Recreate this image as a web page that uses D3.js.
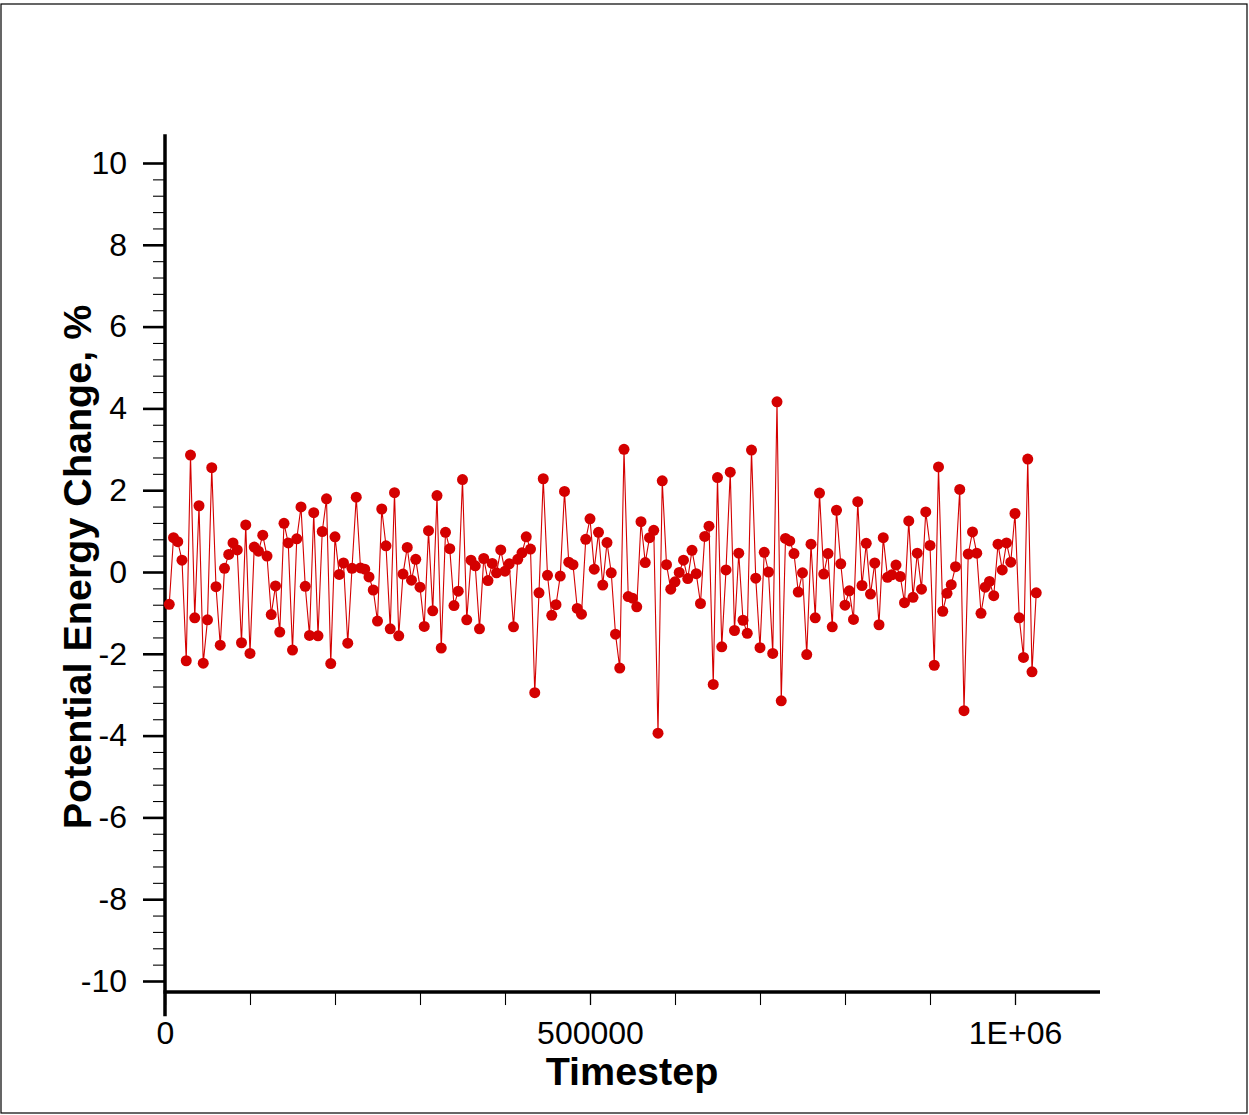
<!DOCTYPE html>
<html>
<head>
<meta charset="utf-8">
<script src="https://cdn.jsdelivr.net/npm/d3@7"></script>
<style>
  html, body { margin: 0; padding: 0; background: #fff; }
  svg { display: block; }
  text { font-family: "Liberation Sans", Arial, sans-serif; fill: #000; }
</style>
</head>
<body>
<svg id="chart" width="1249" height="1115"></svg>
<script>
// ---- data ----
const stepStart = 5000, stepSize = 5000;
const energyChange = [
  -0.79, 0.84, 0.74, 0.29, -2.17, 2.86, -1.12, 1.62, -2.23, -1.17,
  2.55, -0.36, -1.79, 0.09, 0.43, 0.71, 0.54, -1.73, 1.15, -1.99,
  0.61, 0.51, 0.90, 0.39, -1.04, -0.34, -1.47, 1.19, 0.71, -1.91,
  0.81, 1.59, -0.35, -1.55, 1.45, -1.56, 0.99, 1.79, -2.24, 0.86,
  -0.06, 0.22, -1.74, 0.09, 1.83, 0.10, 0.07, -0.12, -0.44, -1.20,
  1.54, 0.64, -1.39, 1.94, -1.56, -0.05, 0.60, -0.20, 0.31, -0.37,
  -1.33, 1.01, -0.95, 1.87, -1.86, 0.97, 0.57, -0.82, -0.47, 2.26,
  -1.17, 0.29, 0.15, -1.39, 0.33, -0.21, 0.21, -0.02, 0.54, 0.02,
  0.20, -1.34, 0.31, 0.47, 0.86, 0.56, -2.95, -0.51, 2.28, -0.08,
  -1.06, -0.80, -0.10, 1.97, 0.24, 0.18, -0.89, -1.03, 0.80, 1.30,
  0.07, 0.97, -0.32, 0.72, -0.02, -1.52, -2.35, 3.00, -0.60, -0.64,
  -0.85, 1.23, 0.23, 0.84, 1.02, -3.94, 2.23, 0.18, -0.42, -0.24,
  -0.01, 0.29, -0.16, 0.53, -0.04, -0.77, 0.87, 1.12, -2.75, 2.31,
  -1.83, 0.05, 2.44, -1.43, 0.46, -1.18, -1.50, 2.98, -0.15, -1.85,
  0.48, 0.00, -1.99, 4.16, -3.15, 0.82, 0.76, 0.45, -0.49, -0.02,
  -2.02, 0.68, -1.12, 1.93, -0.05, 0.45, -1.34, 1.51, 0.20, -0.81,
  -0.46, -1.16, 1.72, -0.33, 0.70, -0.54, 0.22, -1.29, 0.84, -0.13,
  -0.07, 0.17, -0.11, -0.75, 1.25, -0.62, 0.46, -0.42, 1.47, 0.65,
  -2.28, 2.57, -0.96, -0.52, -0.31, 0.13, 2.02, -3.39, 0.44, 0.98,
  0.46, -1.01, -0.37, -0.23, -0.58, 0.68, 0.05, 0.71, 0.24, 1.43,
  -1.12, -2.09, 2.76, -2.44, -0.51
];
const timesteps = energyChange.map((_, i) => stepStart + i * stepSize);
const xMajorTicks = [0, 500000, 1000000];
const xMajorLabels = ["0", "500000", "1E+06"];
const xMinorTicks = [100000, 200000, 300000, 400000, 600000, 700000, 800000, 900000];
const yMajorTicks = [-10, -8, -6, -4, -2, 0, 2, 4, 6, 8, 10];
const yMajorLabels = ["-10", "-8", "-6", "-4", "-2", "0", "2", "4", "6", "8", "10"];
const yMinorTicks = d3.range(-10, 10.01, 0.4).map(v => +v.toFixed(1)).filter(v => Math.abs(v % 2) > 1e-6);
const xTitle = "Timestep";
const yTitle = "Potential Energy Change, %";

// ---- layout ----
const svg = d3.select("#chart");
const x = d3.scaleLinear().domain([0, 1100000]).range([165, 1100]);
const y = d3.scaleLinear().domain([-10, 10]).range([981, 163]);
const red = "#d40000";

// frame
svg.append("rect").attr("x", 1).attr("y", 4).attr("width", 1246).attr("height", 1109)
  .attr("fill", "none").attr("stroke", "#000").attr("stroke-width", 1.2);

// y axis
const yAxisMajor = d3.axisLeft(y).tickValues(yMajorTicks).tickSize(22).tickPadding(16)
  .tickFormat((d, i) => yMajorLabels[i]);
const gy = svg.append("g").attr("transform", `translate(${x(0)},0)`).call(yAxisMajor);
gy.select(".domain").remove();
gy.selectAll(".tick line").attr("stroke", "#000").attr("stroke-width", 2.6);
gy.selectAll(".tick text").attr("font-size", 32).attr("font-family", "Liberation Sans, Arial, sans-serif").attr("fill", "#000");

const yAxisMinor = d3.axisLeft(y).tickValues(yMinorTicks).tickSize(12).tickFormat("");
const gym = svg.append("g").attr("transform", `translate(${x(0)},0)`).call(yAxisMinor);
gym.select(".domain").remove();
gym.selectAll(".tick line").attr("stroke", "#000").attr("stroke-width", 1.1);

// x axis
const xAxisY = y(-10.27);
const xAxisMajor = d3.axisBottom(x).tickValues(xMajorTicks).tickSize(13).tickPadding(16)
  .tickFormat((d, i) => xMajorLabels[i]);
const gx = svg.append("g").attr("transform", `translate(0,${xAxisY})`).call(xAxisMajor);
gx.select(".domain").remove();
gx.selectAll(".tick line").attr("stroke", "#000").attr("stroke-width", 1.3);
gx.selectAll(".tick text").attr("font-size", 32).attr("font-family", "Liberation Sans, Arial, sans-serif").attr("fill", "#000");

const xAxisMinor = d3.axisBottom(x).tickValues(xMinorTicks).tickSize(13).tickFormat("");
const gxm = svg.append("g").attr("transform", `translate(0,${xAxisY})`).call(xAxisMinor);
gxm.select(".domain").remove();
gxm.selectAll(".tick line").attr("stroke", "#000").attr("stroke-width", 1.1);

// axis lines
svg.append("line").attr("x1", x(0)).attr("x2", x(0)).attr("y1", y(10.7)).attr("y2", y(-10.86))
  .attr("stroke", "#000").attr("stroke-width", 3.5);
svg.append("line").attr("x1", x(0) - 1.5).attr("x2", x(1100000)).attr("y1", xAxisY).attr("y2", xAxisY)
  .attr("stroke", "#000").attr("stroke-width", 3.5);

// data line + markers
const pts = timesteps.map((t, i) => [t, energyChange[i]]);
svg.append("path").datum(pts)
  .attr("fill", "none").attr("stroke", red).attr("stroke-width", 1.1)
  .attr("d", d3.line().x(d => x(d[0])).y(d => y(d[1])));
svg.append("g").selectAll("circle").data(pts).join("circle")
  .attr("cx", d => x(d[0])).attr("cy", d => y(d[1])).attr("r", 5.5).attr("fill", red);

// titles
svg.append("text").attr("x", 632).attr("y", 1085).attr("text-anchor", "middle")
  .attr("font-size", 39.5).attr("font-weight", "bold").text(xTitle);
svg.append("text").attr("transform", `translate(91,${y(0) - 5}) rotate(-90)`).attr("text-anchor", "middle")
  .attr("font-size", 39.5).attr("font-weight", "bold").text(yTitle);
</script>
</body>
</html>
